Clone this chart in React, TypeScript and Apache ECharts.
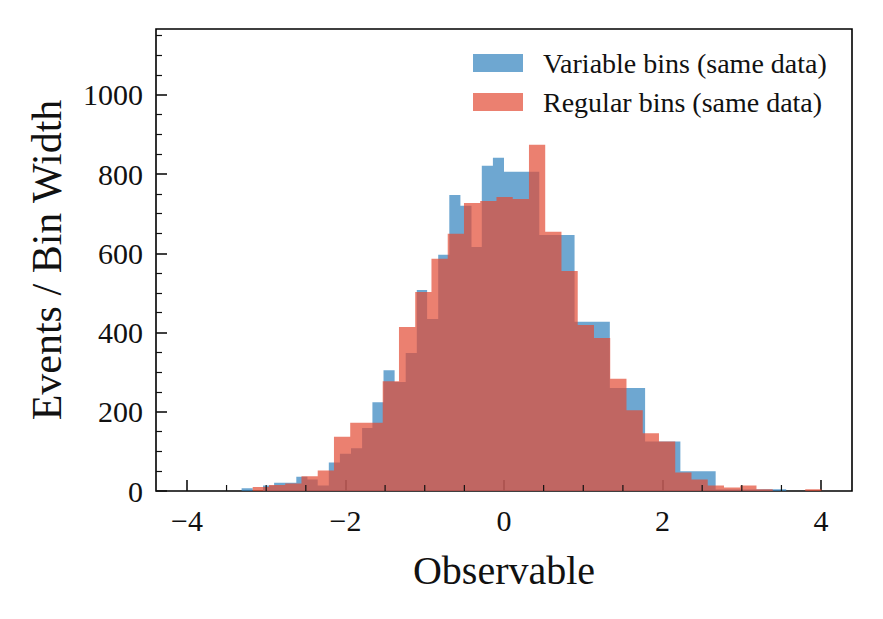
import React, { useEffect, useRef } from "react";
import * as echarts from "echarts";

// Variable-width bins (blue), edges and densities (events / bin width)
const blueEdges = [
  -3.31, -3.17, -3.04, -2.9, -2.76, -2.62, -2.48, -2.35, -2.21, -2.07, -1.93, -1.79, -1.66,
  -1.52, -1.38, -1.24, -1.1, -0.97, -0.83, -0.69, -0.55, -0.41, -0.28, -0.14, 0,
  0.445, 0.89, 1.335, 1.78, 2.225, 2.67, 3.115, 3.56, 4.0,
];
const blueValues = [
  7, 0, 14, 21, 21, 36, 29, 14,
  72, 94, 108, 159, 224, 305, 275, 348,
  507, 434, 596, 747, 720, 616, 821, 841,
  806, 646, 427, 260, 125, 50, 4, 4.5, 0,
];

// Regular bins (red)
const redEdges = [
  -3.17, -2.965, -2.76, -2.555, -2.35, -2.145, -1.94, -1.735, -1.53, -1.325, -1.12, -0.915,
  -0.71, -0.505, -0.3, -0.095, 0.11, 0.315, 0.52, 0.725, 0.93, 1.135, 1.34, 1.545, 1.75,
  1.955, 2.16, 2.365, 2.57, 2.775, 2.98, 3.185, 3.39, 3.595, 3.8, 4.005,
];
const redValues = [
  10, 15, 19, 37, 52, 137, 172, 172, 277, 414,
  502, 586, 649, 727, 732, 742, 737, 874, 654, 555,
  419, 386, 283, 204, 146, 125, 47, 29, 14, 9,
  14, 4.5, 0, 0, 4.5,
];

const xMajorTicks = [-4, -2, 0, 2, 4];
const xMinorTicks = [-3.5, -3, -2.5, -1.5, -1, -0.5, 0.5, 1, 1.5, 2.5, 3, 3.5];
const yMajorTicks = [0, 200, 400, 600, 800, 1000];
const yMinorTicks = [50, 100, 150, 250, 300, 350, 450, 500, 550, 650, 700, 750, 850, 900, 950, 1050, 1100, 1150];
const xMin = -4.39;
const xMax = 4.39;
const yMin = 0;
const yMax = 1166;

const seriesNames = ["Variable bins (same data)", "Regular bins (same data)"];
const blueFill = "rgba(49,130,189,0.7)";
const redFill = "rgba(227,74,51,0.7)";

const FONT = "'Liberation Serif', 'DejaVu Serif', serif";

function stepPoints(edges: number[], values: number[]) {
  const pts: number[][] = values.map((v, i) => [edges[i], v]);
  pts.push([edges[edges.length - 1], values[values.length - 1]]);
  return pts;
}

const minus = (v: number) => String(v).replace("-", "\u2212");

export default function App() {
  const ref = useRef<HTMLDivElement>(null);
  useEffect(() => {
    if (!ref.current) return;
    const chart = echarts.init(ref.current, null, { renderer: "svg" });
    const mkStep = (name: string, edges: number[], values: number[], fill: string) => ({
      name,
      type: "line",
      step: "end",
      data: stepPoints(edges, values),
      showSymbol: false,
      symbol: "none",
      color: fill,
      lineStyle: { width: 0, color: fill },
      areaStyle: { color: fill, opacity: 1, origin: "start" },
      xAxisIndex: 0,
      yAxisIndex: 0,
      silent: true,
    });
    const hiddenLine = { show: false, onZero: false };
    chart.setOption({
      animation: false,
      backgroundColor: "#ffffff",
      grid: {
        left: 156,
        top: 29,
        width: 696,
        height: 462,
        show: true,
        borderColor: "#000",
        borderWidth: 1.6,
        backgroundColor: "transparent",
        containLabel: false,
      },
      legend: {
        orient: "vertical",
        left: 473,
        top: 49,
        padding: 0,
        itemWidth: 50,
        itemHeight: 18,
        itemGap: 11,
        icon: "rect",
        selectedMode: false,
        data: [
          { name: seriesNames[0], itemStyle: { color: blueFill, borderWidth: 0 } },
          { name: seriesNames[1], itemStyle: { color: redFill, borderWidth: 0 } },
        ],
        textStyle: {
          fontFamily: FONT,
          fontSize: 28,
          color: "#111",
          lineHeight: 28,
          padding: [0, 0, 0, 15],
        },
      },
      xAxis: [
        {
          type: "value",
          min: xMin,
          max: xMax,
          position: "bottom",
          name: "Observable",
          nameLocation: "middle",
          nameGap: 59,
          nameTextStyle: { fontFamily: FONT, fontSize: 40, color: "#111" },
          axisLine: hiddenLine,
          splitLine: { show: false },
          axisTick: {
            show: true,
            inside: true,
            length: 11,
            customValues: xMajorTicks,
            lineStyle: { color: "#111", width: 1.6 },
          },
          axisLabel: {
            customValues: xMajorTicks,
            margin: 14,
            fontFamily: FONT,
            fontSize: 30,
            color: "#111",
            formatter: (v: number) => minus(v),
          },
        },
      ],
      yAxis: [
        {
          type: "value",
          min: yMin,
          max: yMax,
          position: "left",
          name: "Events / Bin Width",
          nameLocation: "middle",
          nameGap: 88,
          nameTextStyle: { fontFamily: FONT, fontSize: 42, color: "#111" },
          axisLine: hiddenLine,
          splitLine: { show: false },
          axisTick: {
            show: true,
            inside: true,
            length: 11,
            customValues: yMajorTicks,
            lineStyle: { color: "#111", width: 1.6 },
          },
          axisLabel: {
            customValues: yMajorTicks,
            margin: 13,
            fontFamily: FONT,
            fontSize: 30,
            color: "#111",
            formatter: (v: number) => String(v),
          },
        },
        {
          type: "value",
          min: yMin,
          max: yMax,
          position: "left",
          axisLine: hiddenLine,
          splitLine: { show: false },
          axisLabel: { show: false },
          axisTick: {
            show: true,
            inside: true,
            length: 6,
            customValues: yMinorTicks,
            lineStyle: { color: "#111", width: 1.2 },
          },
        },
      ],
      series: [
        mkStep(seriesNames[0], blueEdges, blueValues, blueFill),
        mkStep(seriesNames[1], redEdges, redValues, redFill),
        {
          type: "custom",
          xAxisIndex: 0,
          yAxisIndex: 0,
          silent: true,
          clip: false,
          z: 5,
          data: xMinorTicks.map((v) => [v, 0]),
          encode: { x: 0, y: 1 },
          renderItem: (_p: any, api: any) => {
            const pt = api.coord([api.value(0), 0]);
            return {
              type: "line",
              shape: { x1: pt[0], y1: pt[1], x2: pt[0], y2: pt[1] - 6 },
              style: { stroke: "#111", lineWidth: 1.2 },
            };
          },
        },
      ],
    });
    return () => chart.dispose();
  }, []);
  return (
    <div
      ref={ref}
      style={{ position: "absolute", left: 0, top: 0, width: 883, height: 619, background: "#fff" }}
    />
  );
}
